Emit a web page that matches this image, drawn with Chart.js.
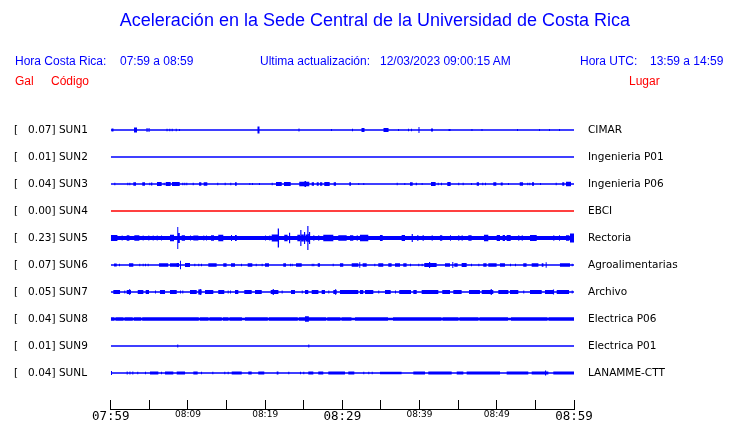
<!DOCTYPE html>
<html><head><meta charset="utf-8">
<script src="https://cdn.jsdelivr.net/npm/chart.js@4.4.0/dist/chart.umd.min.js"></script>
<style>
html,body{margin:0;padding:0;background:#fff;}
#wrap{position:relative;width:740px;height:423px;overflow:hidden;background:#fff;}
#c{position:absolute;left:0;top:0;}
.t{position:absolute;white-space:pre;font-family:"Liberation Sans",Arial,sans-serif;font-size:12px;line-height:12px;color:#0000ff;}
.r{color:#ff0000;}
#title{left:5px;width:740px;text-align:center;font-size:18px;line-height:18px;top:11px;}
</style></head><body>
<div id="wrap">
<canvas id="c" width="740" height="423"></canvas>
<div class="t" id="title">Aceleración en la Sede Central de la Universidad de Costa Rica</div>
<div class="t" style="left:15px;top:55px">Hora Costa Rica:</div>
<div class="t" style="left:120px;top:55px">07:59 a 08:59</div>
<div class="t" style="left:260px;top:55px">Ultima actualización:</div>
<div class="t" style="left:380px;top:55px">12/03/2023 09:00:15 AM</div>
<div class="t" style="left:580px;top:55px">Hora UTC:</div>
<div class="t" style="left:650px;top:55px">13:59 a 14:59</div>
<div class="t r" style="left:15px;top:75px">Gal</div>
<div class="t r" style="left:51px;top:75px">Código</div>
<div class="t r" style="left:629px;top:75px">Lugar</div>
</div>
<script>
// ---- data ----
const stations = ['SUN1','SUN2','SUN3','SUN4','SUN5','SUN6','SUN7','SUN8','SUN9','SUNL'];
const peakGal = [0.07,0.01,0.04,0.00,0.23,0.07,0.05,0.04,0.01,0.04];
const places = ['CIMAR','Ingenieria P01','Ingenieria P06','EBCI','Rectoria','Agroalimentarias','Archivo','Electrica P06','Electrica P01','LANAMME-CTT'];
const timeTicks = ['07:59','08:09','08:19','08:29','08:39','08:49','08:59']; // every 10 min
const traceColors = ['#0000ff','#0000ff','#0000ff','#ff0000','#0000ff','#0000ff','#0000ff','#0000ff','#0000ff','#0000ff'];
// background noise half-amplitude of each trace
const baseNoise = [0.7,0.7,0.75,0.7,2.0,0.8,0.8,1.3,0.7,0.75];
// bursts: [start minute, duration minutes, half-amplitude]
const sun1 = [[0.10,0.26,1.5],[3.02,0.39,2.5],[4.64,0.13,2],[4.90,0.13,2],[7.23,0.13,1.3],[7.59,0.13,1.3],[7.90,0.13,1.3],[8.42,0.13,1.3],[8.85,0.13,1],
 [19.01,0.26,3.5],[24.32,0.13,1.5],[28.53,0.13,1],[31.25,0.13,1.3],[32.48,0.39,2],[35.33,0.65,2],[37.21,0.13,1],[38.50,0.13,1.2],[38.89,0.13,1.2],
 [39.86,0.13,3],[41.48,0.26,1.5],[43.75,0.26,1],[46.72,0.13,1],[48.02,0.13,1],[52.62,0.13,1],[55.47,0.13,1],[56.76,0.13,1],[58.06,0.13,1]];
const sun2 = [];
const sun3 = [[0.47,0.13,1.2],[2.15,0.13,1.3],[2.41,0.13,1.3],[2.93,0.35,1.7],[4.09,0.35,1.7],[5.00,0.13,1.3],[5.22,0.17,1.5],[6.00,0.6,1.9],[6.86,0.13,1.3],
 [7.12,0.65,1.9],[7.94,1.0,2.0],[9.27,0.13,1.2],[9.53,0.13,1.2],[9.79,0.13,1.2],[10.62,0.13,1.3],[11.44,0.3,1.7],[12.04,0.47,1.7],[13.80,0.13,1.3],
 [14.76,0.13,1.3],[15.49,0.13,1.3],[16.10,0.22,1.7],[17.95,0.13,1],[18.30,0.13,1],[19.20,0.13,1],[20.85,0.13,1.3],[21.41,0.74,2.0],[22.44,0.87,2.0],
 [24.42,1.3,2.3],[25.10,0.2,3],[26.03,0.3,1.7],[26.68,0.26,1.7],[27.10,0.3,1.7],[27.66,0.7,2.0],[28.88,0.3,1.7],[30.90,0.22,1.7],[32.06,0.13,1],
 [32.71,0.13,1],[37.04,0.13,1.3],[38.02,0.13,1],[38.76,0.35,1.7],[39.50,0.17,1.3],[40.27,0.13,1],[41.48,0.6,1.9],[42.35,0.13,1.3],[42.77,0.13,1.3],
 [43.59,0.44,1.9],[45.01,0.13,1.2],[45.58,0.13,1.2],[46.66,0.13,1],[47.40,0.3,1.7],[48.12,0.13,1.3],[48.47,0.13,1.3],[49.55,0.39,1.7],[50.51,0.26,1.5],
 [51.45,0.13,1],[52.97,0.43,1.8],[53.95,0.13,1.3],[54.21,0.13,1.3],[54.56,0.26,1.7],[55.60,0.13,1],[57.63,0.13,1.2],[58.48,0.26,1.7],[58.96,0.65,2.2]];
const sun4 = [];
const sun5 = [[0,0.87,2.9],[1.42,0.13,2.5],[2.07,0.35,2.8],[3.06,0.65,2.8],[4.14,0.13,2.5],[4.87,0.13,2.5],[5.44,0.13,2.5],[5.96,0.13,2.5],[6.51,0.13,2.5],
 [7.68,0.52,3.2],[8.62,0.13,11],[8.75,0.2,5],[9.19,0.43,2.8],[10.27,0.13,2.5],[10.70,0.65,2.6],[11.99,0.13,2.5],[12.34,0.13,2.5],[12.99,0.39,2.8],
 [13.93,0.65,3.2],[15.58,0.13,3],[16.10,0.22,3],[19.98,0.13,2.5],[20.54,0.13,2.5],[20.85,0.78,3.5],[21.63,0.17,9.5],[22.48,0.43,3.2],[23.09,0.15,5.3],
 [24.17,0.35,3.2],[24.55,0.15,8],[24.71,0.3,3.5],[25.03,0.15,6],[25.23,0.25,3.5],[25.46,0.15,12],[25.62,0.15,4],[25.68,0.15,6],[26.24,0.13,2.7],
 [26.88,0.13,2.7],[27.53,1.3,3.2],[29.47,1.09,2.8],[30.99,0.43,2.8],[31.86,0.13,2.7],[32.28,1.08,3.2],[34.87,0.35,3],[37.68,0.43,3],[38.98,0.15,4],
 [39.71,0.13,2.9],[40.40,0.13,2.9],[41.57,0.13,2.7],[42.64,0.3,2.8],[43.94,0.13,2.7],[45.01,0.13,2.7],[45.45,0.13,2.7],[46.31,0.43,2.8],[48.34,0.56,3.2],
 [49.99,0.43,3],[50.76,0.3,3],[51.28,0.52,3],[52.78,0.13,2.7],[53.23,0.13,2.7],[54.30,0.87,3],[57.32,0.13,2.7],[58.06,0.13,2.7],[58.96,0.43,2.8],
 [59.48,0.52,4.5]];
const sun6 = [[0.43,0.35,1.5],[1.07,0.13,1.3],[2.37,0.56,1.7],[3.70,0.13,1.3],[4.14,0.13,1.3],[4.44,0.13,1.3],[4.79,0.13,1.3],[6.25,1.2,1.7],[7.68,0.87,1.7],
 [8.55,0.3,2],[8.97,0.13,4.3],[9.62,0.65,2],[10.83,0.13,1.3],[11.34,0.13,1.3],[11.69,0.13,1.3],[12.64,1.08,1.7],[14.58,0.43,1.7],[15.58,0.52,1.7],
 [16.87,0.13,1.3],[17.74,0.6,1.7],[18.78,0.13,1.3],[19.55,0.13,1.3],[19.98,0.52,1.7],[22.35,0.35,1.7],[23.22,0.13,1.3],[23.44,0.13,1.3],[24.00,0.74,1.7],
 [26.03,0.13,1.3],[26.24,0.13,1.3],[26.81,0.3,1.7],[28.75,0.13,1.3],[29.69,0.43,1.7],[31.21,0.87,1.7],[32.19,0.13,2.7],[32.63,0.52,1.7],[34.14,0.13,1.3],
 [34.65,0.65,1.7],[35.95,0.43,1.7],[36.82,0.65,1.7],[37.89,0.43,1.7],[38.76,0.13,1.3],[39.83,0.13,1.3],[40.27,0.13,1.3],[40.61,1.6,2],[41.22,0.15,3],
 [43.29,0.65,1.7],[44.24,0.13,3],[44.50,0.43,1.7],[45.45,0.65,2],[46.66,0.13,1.3],[47.61,0.13,1.3],[48.25,0.43,1.7],[48.90,1.08,1.7],[50.41,0.65,1.7],
 [51.71,0.13,1.3],[52.36,0.13,1.3],[53.43,0.43,1.7],[54.52,0.87,1.7],[55.82,0.22,1.7],[56.33,0.13,2.7],[58.18,1.3,1.7],[59.70,0.13,1.3]];
const sun7 = [[0.34,0.87,2],[1.76,0.13,1.5],[2.07,0.56,2],[2.37,0.15,2.7],[3.50,0.73,2],[4.53,0.43,2],[5.74,0.13,1.5],[6.38,0.65,2],[7.68,0.87,2],
 [8.97,0.13,1.5],[9.27,0.13,1.5],[10.27,0.87,2],[11.34,0.44,2.4],[11.53,0.15,3],[12.21,1.08,2],[13.93,0.78,2],[15.15,0.13,1.5],[15.45,0.13,1.5],
 [16.10,0.43,2],[17.30,0.96,2],[18.69,0.87,2],[20.72,1.0,2.1],[20.98,0.15,2.9],[22.14,0.13,1.5],[23.35,0.52,2],[24.74,0.13,1.5],[25.16,0.43,2],
 [26.03,0.87,2],[27.32,0.43,2],[28.18,0.13,1.5],[28.83,0.44,2],[29.05,0.15,2.7],[29.69,2.37,2],[32.28,0.43,2],[32.93,1.08,2],[34.65,0.13,1.5],
 [35.52,0.74,2],[36.82,0.13,1.5],[37.37,1.52,2],[39.19,0.44,2],[40.27,2.16,2],[42.94,1.0,2],[44.37,1.08,2],[46.40,1.42,2],[48.05,1.5,2],
 [49.21,0.15,3],[50.20,1.3,2],[51.71,1.08,2],[53.43,0.13,1.5],[54.30,1.52,2],[56.24,1.08,2],[57.27,0.15,2.4],[57.76,1.6,2],[59.70,0.13,1.5]];
const sun8 = [[0,0.49,1.8],[0.62,1.04,1.8],[1.79,1.07,1.8],[2.99,0.96,1.8],[4.08,7.33,1.8],[11.54,1.13,1.8],[12.79,1.6,1.8],[14.52,0.74,1.8],[15.38,1.62,1.8],
 [17.39,2.96,1.8],[20.47,3.76,1.8],[24.36,3.55,1.8],[25.16,0.5,2.8],[28.04,1.72,1.8],[29.89,1.29,1.8],[31.64,4.27,1.8],[36.56,6.28,1.8],[42.97,2.07,1.8],
 [45.17,2.46,1.8],[47.76,3.69,1.8],[51.84,4.73,1.8],[56.70,3.3,1.8]];
const sun9 = [[8.62,0.13,1.5],[25.59,0.13,1.5]];
const sunL = [[0.04,0.13,2],[2.07,0.13,1.5],[2.43,0.13,1.5],[2.80,0.13,1.5],[3.44,0.13,1.3],[4.44,0.13,1.3],[5.09,1.08,1.4],[6.51,0.13,1.3],[7.03,1.08,1.5],
 [8.55,1.08,1.5],[10.70,0.56,1.4],[11.69,0.13,1.3],[13.16,0.13,1.3],[14.71,0.13,1.3],[15.15,0.13,1.3],[15.67,1.3,1.5],[17.82,0.44,1.4],[19.11,0.78,1.4],
 [21.50,0.22,1.4],[23.00,0.13,1.3],[24.51,0.13,1.3],[24.94,0.13,1.3],[25.59,0.65,1.4],[26.88,0.65,1.4],[28.18,2.16,1.5],[30.77,0.78,1.4],[32.71,0.13,1.3],
 [33.36,0.13,1.3],[33.80,0.13,1.3],[34.87,2.8,1.3],[39.19,1.52,1.4],[41.13,3.03,1.4],[44.81,0.86,1.4],[46.10,4.32,1.5],[51.28,2.8,1.4],[54.52,2.16,1.4],
 [56.24,0.15,2.5],[57.32,2.68,1.5]];
const bursts = [sun1,sun2,sun3,sun4,sun5,sun6,sun7,sun8,sun9,sunL];

// ---- build ----
const SPAN = 60;          // minutes shown
const GAIN = 27;          // trace units per row
function envelope(list, base){
  const s = new Set([0, SPAN]);
  list.forEach(([t,d]) => { s.add(Math.max(0,t)); s.add(Math.min(SPAN,t+d)); });
  const xs = [...s].sort((a,b)=>a-b);
  const out = [];
  for (let i=0;i<xs.length-1;i++){
    const m = (xs[i]+xs[i+1])/2;
    let a = base;
    list.forEach(([t,d,amp]) => { if (m>=t && m<t+d) a = Math.max(a,amp); });
    out.push({x:xs[i], a});
  }
  out.push({x:SPAN, a:out[out.length-1].a});
  return out;
}
const datasets = [];
stations.forEach((st,i)=>{
  const env = envelope(bursts[i], baseNoise[i]);
  datasets.push({label:st+'+', data:env.map(p=>({x:p.x,y:i-p.a/GAIN})), stepped:true, borderWidth:0, pointRadius:0,
    fill:'+1', backgroundColor:traceColors[i], borderColor:traceColors[i]});
  datasets.push({label:st+'-', data:env.map(p=>({x:p.x,y:i+p.a/GAIN})), stepped:true, borderWidth:0, pointRadius:0,
    fill:false, backgroundColor:traceColors[i], borderColor:traceColors[i]});
});
const leftLabels = stations.map((s,i)=>'[   '+peakGal[i].toFixed(2)+'] '+s);
const yMin = -15/GAIN, yMax = 279/GAIN;
const rowTicks = s => { s.ticks = stations.map((_,i)=>({value:i})); };

new Chart(document.getElementById('c'), {
  type:'line',
  data:{datasets},
  options:{
    responsive:false, animation:false, events:[],
    layout:{padding:{top:115,left:14,right:0,bottom:0}},
    plugins:{legend:{display:false}, tooltip:{enabled:false}, filler:{propagate:false}},
    scales:{
      x:{type:'linear', min:0, max:SPAN, position:'bottom',
        afterFit:s=>{s.height=14;},
        grid:{display:true, drawOnChartArea:false, drawTicks:true, tickLength:-9, color:'#000', tickColor:'#000', lineWidth:1},
        border:{display:true, color:'#000', width:1},
        ticks:{stepSize:5, autoSkip:false, maxRotation:0, padding:9.5, color:'#000',
          callback:(v)=> (v%10===0 ? timeTicks[v/10] : ''),
          font:(ctx)=>{ const v = ctx.tick ? ctx.tick.value : 0;
            return (v%30===0) ? {family:'DejaVu Sans Mono', size:12.5} : {family:'DejaVu Sans', size:9}; }}
      },
      y:{type:'linear', position:'left', reverse:true, min:yMin, max:yMax,
        afterBuildTicks:rowTicks, afterFit:s=>{s.width=96.7;},
        grid:{display:false, drawTicks:false}, border:{display:false},
        ticks:{autoSkip:false, crossAlign:'far', padding:0, color:'#000', font:{family:'DejaVu Sans', size:10.5},
          callback:(v,idx)=>leftLabels[idx]}
      },
      y2:{type:'linear', position:'right', reverse:true, min:yMin, max:yMax,
        afterBuildTicks:rowTicks, afterFit:s=>{s.width=166;},
        grid:{display:false, drawTicks:true, tickLength:14}, border:{display:false},
        ticks:{autoSkip:false, crossAlign:'near', padding:0, color:'#000', font:{family:'DejaVu Sans', size:10.5},
          callback:(v,idx)=>places[idx]}
      }
    }
  }
});
</script>
</body></html>
